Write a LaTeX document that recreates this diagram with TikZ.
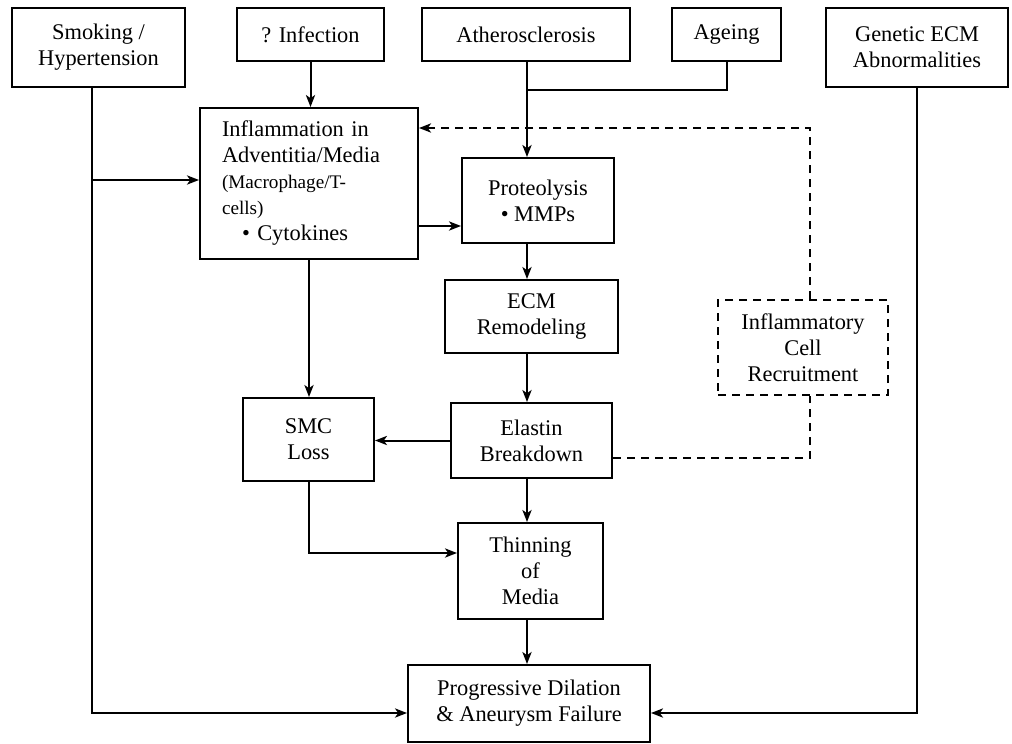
\documentclass[tikz,border=0pt]{standalone}
\usepackage{fontspec}
\setmainfont{Liberation Serif}
\usetikzlibrary{arrows.meta}

\begin{document}
\begin{tikzpicture}[x=0.5pt, y=-0.5pt, line width=1pt,
    >={Stealth[length=6pt, width=4.6pt, inset=1.6pt]},
    every node/.style={font=\fontsize{11.2}{13}\selectfont},
    blk/.style={draw, align=center, inner sep=0pt},
    dashblk/.style={blk, dash pattern=on 4pt off 3pt},
    dashln/.style={dash pattern=on 4pt off 3pt}]
    \useasboundingbox (0,0) rectangle (1012,744);
    % causes along the top
    \node [blk, minimum width=86.5pt, minimum height=39.5pt] (smoke) at (98.5, 47.5) {Smoking /\\Hypertension};
    \node [blk, minimum width=73.5pt, minimum height=26.5pt] (infect) at (310.5, 34.5) {? Infection};
    \node [blk, minimum width=104pt, minimum height=26.5pt] (athero) at (526, 34.5) {Atherosclerosis};
    \node [blk, minimum width=54.5pt, minimum height=26.5pt] (ageing) at (726.5, 34.5) {Ageing};
    \node [blk, minimum width=91pt, minimum height=39.5pt] (genetic) at (917, 47.5) {Genetic ECM\\Abnormalities};
    % middle
    \node [draw, align=left, inner ysep=0pt, inner xsep=11pt, text width=87pt, minimum height=75.5pt] (inflam) at (309, 183.5)
        {Inflammation in\\Adventitia/Media\\{\fontsize{9.6}{11}\selectfont (Macrophage/T-}\\{\fontsize{9.6}{11}\selectfont cells)}\\\hspace{10pt}\textbullet\ Cytokines};
    \node [blk, minimum width=76pt, minimum height=42.5pt] (proteo) at (538, 200.5) {Proteolysis\\\textbullet\ MMPs};
    \node [blk, minimum width=86.5pt, minimum height=36.5pt] (ecm) at (531.5, 316.5) {ECM\\Remodeling};
    \node [dashblk, minimum width=85pt, minimum height=47.5pt] (recruit) at (803, 347.5) {Inflammatory\\Cell\\Recruitment};
    \node [blk, minimum width=65.5pt, minimum height=41.5pt] (smc) at (308.5, 439.5) {SMC\\Loss};
    \node [blk, minimum width=80.5pt, minimum height=37.5pt] (elastin) at (531.5, 440.5) {Elastin\\Breakdown};
    \node [blk, minimum width=72.5pt, minimum height=48pt] (thin) at (530.5, 571) {Thinning\\of\\Media};
    \node [blk, minimum width=121pt, minimum height=38.5pt] (prog) at (529, 703.5) {Progressive Dilation\\\& Aneurysm Failure};
    % bends
    \coordinate (col) at (527, 0);
    \coordinate (join) at (527, 90);
    \coordinate (sm) at (92, 713);
    \coordinate (sb) at (92, 180);
    \coordinate (gn) at (917, 713);
    \coordinate (ip) at (440, 226);
    \coordinate (st) at (308.5, 553);
    \coordinate (ed) at (810, 458);
    \coordinate (rt) at (810, 128);
    \draw [->] (infect) -- (infect |- inflam.north);
    \draw [->] (athero.south -| col) -- (proteo.north -| col);
    \draw (ageing.south) |- (join);
    \draw [->] (smoke.south -| sm) -- (sm) -- (prog.west |- sm);
    \draw [->] (sb) -- (inflam.west |- sb);
    \draw [->] (genetic.south) -- (gn) -- (prog.east |- gn);
    \draw [->] (inflam.east |- ip) -- (proteo.west |- ip);
    \draw [->] (proteo.south -| col) -- (ecm.north -| col);
    \draw [->] (ecm.south -| col) -- (elastin.north -| col);
    \draw [->] (elastin.west) -- (smc.east |- elastin.west);
    \draw [->] (inflam) -- (inflam |- smc.north);
    \draw [->] (smc.south) -- (st) -- (thin.west |- st);
    \draw [->] (elastin.south -| col) -- (thin.north -| col);
    \draw [->] (thin.south -| col) -- (prog.north -| col);
    \draw [dashln] (elastin.east |- ed) -- (ed) -- (recruit.south -| ed);
    \draw [dashln, ->] (recruit.north -| rt) -- (rt) -- (inflam.east |- rt);
\end{tikzpicture}
\end{document}
